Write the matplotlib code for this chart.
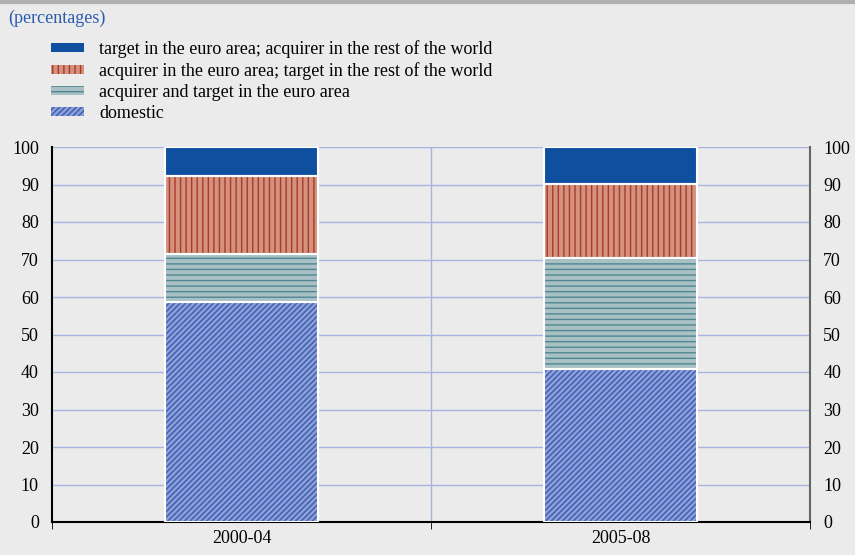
import numpy as np
import matplotlib
matplotlib.use("Agg")
import matplotlib.pyplot as plt
from matplotlib.patches import Patch

plt.rcParams['font.family'] = ['Liberation Serif', 'DejaVu Serif']
plt.rcParams['hatch.linewidth'] = 1.0

periods = ['2000-04', '2005-08']
domestic = [58.7, 40.7]
euro_area = [12.8, 29.6]
acq_euro = [20.8, 19.8]
target_euro = [7.7, 9.9]

labels = ['target in the euro area; acquirer in the rest of the world',
          'acquirer in the euro area; target in the rest of the world',
          'acquirer and target in the euro area',
          'domestic']

bg = '#ebebeb'
fig = plt.figure(figsize=(8.55, 5.55), dpi=100, facecolor=bg)
ax = fig.add_axes([52 / 855, 1 - 522 / 555, 758 / 855, 375 / 555], facecolor=bg)

x = np.arange(len(periods))
w = 0.405

# stacked bars, bottom to top
styles = [
    (domestic, '#8c9fd8', '#3a5cb0', '//////'),
    (euro_area, '#a9c0c4', '#4f8793', '---'),
    (acq_euro, '#d4927d', '#a83a2c', '|||'),
    (target_euro, '#0f4fa0', '#0f4fa0', None),
]
bottom = np.zeros(len(periods))
handles = []
for (vals, fc, hc, hatch), lab in zip(styles, labels[::-1]):
    ax.bar(x, vals, w, bottom=bottom, color=fc, edgecolor=hc, hatch=hatch,
           linewidth=0, zorder=3)
    ax.bar(x, vals, w, bottom=bottom, facecolor='none', edgecolor='white',
           linewidth=1.5, zorder=4)
    bottom += np.array(vals)
    handles.append(Patch(facecolor=fc, edgecolor=hc, hatch=hatch, linewidth=0, label=lab))

ax.set_xlim(-0.5, 1.5)
ax.set_ylim(0, 100)
ax.set_yticks(range(0, 101, 10))
ax.grid(axis='y', color='#a8b4e0', linewidth=1, zorder=1)
ax.axvline(0.5, color='#a8b4e0', linewidth=1, zorder=1)

ax.set_xticks(x)
ax.set_xticklabels(periods, fontsize=13)
ax.tick_params(axis='x', length=0, pad=6)
ax.set_xticks([-0.5, 0.5, 1.5], minor=True)
ax.tick_params(axis='x', which='minor', length=5, direction='out')
ax.tick_params(axis='y', which='both', left=False, right=False,
               labelleft=True, labelright=True, labelsize=13, pad=6)

ax.spines['top'].set_visible(False)
ax.spines['bottom'].set_linewidth(1.5)
ax.spines['left'].set_linewidth(1.5)
ax.spines['right'].set_linewidth(1.5)
ax.spines['right'].set_color('#666666')

fig.text(8 / 855, 1 - 18 / 555, '(percentages)', color='#2a5ab0', fontsize=13,
         va='center', ha='left')

fig.legend(handles=handles[::-1], loc='upper left', bbox_to_anchor=(42 / 855, 1 - 31 / 555),
           frameon=False, fontsize=13, handlelength=1.85, handleheight=0.4,
           labelspacing=0.22, handletextpad=0.8, borderpad=0)

fig.add_artist(plt.Line2D([0, 1], [1 - 1.5 / 555, 1 - 1.5 / 555], color='#b0b0b0', linewidth=3))

fig.savefig('out.png', dpi=100, facecolor=bg)
